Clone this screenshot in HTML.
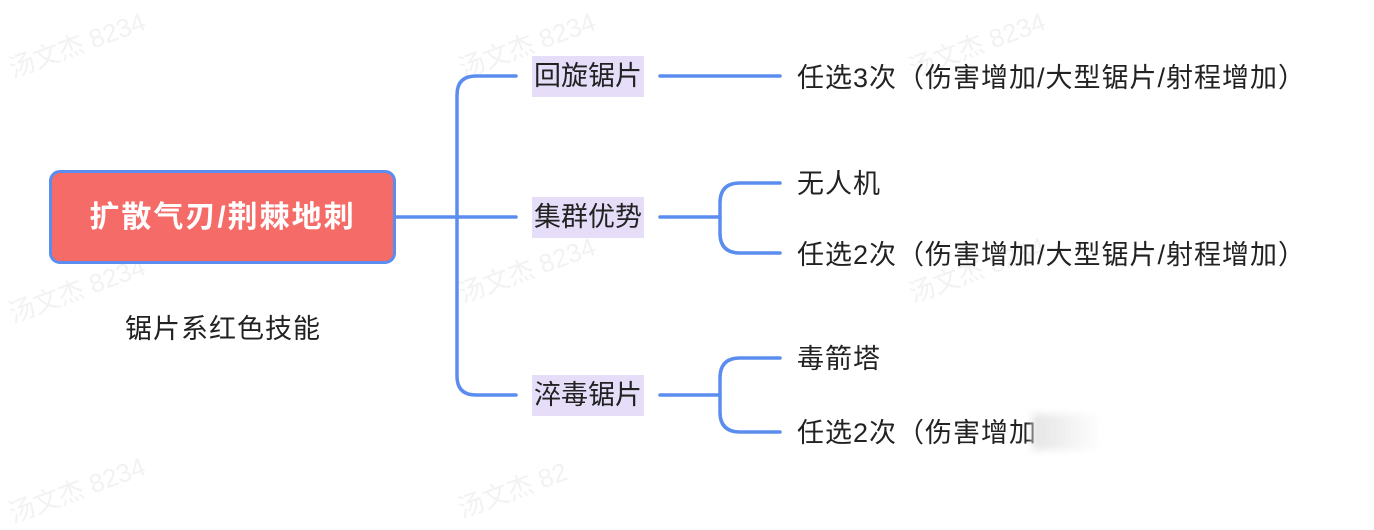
<!DOCTYPE html>
<html><head><meta charset="utf-8"><style>
body{margin:0;width:1374px;height:508px;background:#fff;position:relative;overflow:hidden;font-family:"Liberation Sans","Noto Sans CJK SC",sans-serif;color:#222;}
.t{position:absolute;font-size:27px;line-height:30px;white-space:nowrap;letter-spacing:1px;}
.lb{position:absolute;background:#e6def9;font-size:27px;line-height:41px;height:41px;text-align:center;width:112px;white-space:nowrap;}
.wm{position:absolute;color:#f2f2f2;font-size:26px;transform:rotate(-20deg);white-space:nowrap;}
</style></head><body>
<div class="wm" style="left:5px;top:25px">汤文杰 8234</div>
<div class="wm" style="left:455px;top:25px">汤文杰 8234</div>
<div class="wm" style="left:905px;top:25px">汤文杰 8234</div>
<div class="wm" style="left:5px;top:270px">汤文杰 8234</div>
<div class="wm" style="left:455px;top:250px">汤文杰 8234</div>
<div class="wm" style="left:905px;top:250px">汤文杰 8234</div>
<div class="wm" style="left:5px;top:470px">汤文杰 8234</div>
<div class="wm" style="left:455px;top:470px">汤文杰 82</div>
<svg width="1374" height="508" style="position:absolute;left:0;top:0">
<g fill="none" stroke="#5b8def" stroke-width="3.5" stroke-linecap="round">
<path d="M396 217 H516"/>
<path d="M516 76 H476 Q457 76 457 95 V376 Q457 395 476 395 H516"/>
<path d="M660 76 H780"/>
<path d="M660 217 H720"/>
<path d="M780 183 H740 Q720 183 720 203 V233 Q720 253 740 253 H780"/>
<path d="M660 395 H720"/>
<path d="M780 358 H740 Q720 358 720 378 V412 Q720 432 740 432 H780"/>
</g>
</svg>
<div style="position:absolute;left:49px;top:170px;width:341px;height:88px;background:#f56b67;border:3px solid #5b8def;border-radius:11px;color:#fff;font-weight:bold;font-size:30px;letter-spacing:2px;line-height:90px;text-align:center;white-space:nowrap;">扩散气刃/荆棘地刺</div>
<div class="t" style="left:125px;top:314px">锯片系红色技能</div>
<div class="lb" style="left:532px;top:56px">回旋锯片</div>
<div class="lb" style="left:532px;top:197px">集群优势</div>
<div class="lb" style="left:532px;top:375px">淬毒锯片</div>
<div class="t" style="left:797px;top:63px">任选3次（伤害增加/大型锯片/射程增加）</div>
<div class="t" style="left:797px;top:169px">无人机</div>
<div class="t" style="left:797px;top:240px">任选2次（伤害增加/大型锯片/射程增加）</div>
<div class="t" style="left:797px;top:344px">毒箭塔</div>
<div class="t" style="left:797px;top:418px">任选2次（伤害增加</div>
<div style="position:absolute;left:1032px;top:414px;width:70px;height:36px;background:linear-gradient(90deg,rgba(225,225,225,0.9),rgba(255,255,255,0));filter:blur(4px);"></div>
</body></html>
